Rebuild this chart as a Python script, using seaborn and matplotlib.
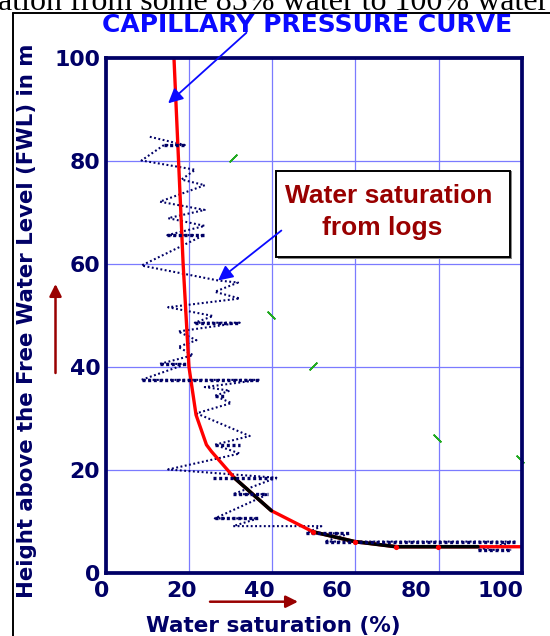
import matplotlib
matplotlib.use("Agg")
import matplotlib.pyplot as plt
import seaborn as sns
from matplotlib.lines import Line2D
from matplotlib.patches import Rectangle
from matplotlib.transforms import ScaledTranslation

# ---- capillary pressure curve (Sw %, height above FWL m)
cap_sw = [16.4, 18.6, 20.0, 21.7, 24.2, 25.4, 31.0, 39.8, 49.8, 59.8, 69.8, 79.8, 89.4, 100.0]
cap_h = [100.0, 60.0, 40.0, 30.7, 24.9, 23.6, 18.4, 12.1, 8.0, 6.1, 5.1, 5.1, 5.1, 5.1]

log_sw = [10.6, 19.0, 14.0, 8.6, 21.5, 18.2, 23.8, 13.0, 23.8, 15.0, 23.8, 14.8, 23.6,
          8.6, 27.0, 31.8, 26.2, 32.2, 15.0, 25.8, 21.4, 32.2, 17.4, 21.8, 17.4, 21.0,
          13.0, 19.4, 8.6, 37.0, 23.8, 29.8, 26.2, 30.2, 21.8, 34.6, 26.2, 32.2, 15.0,
          41.0, 30.6, 39.0, 26.2, 36.6, 30.6, 51.8, 48.2, 58.6, 52.6, 98.6, 89.4, 97.4]
log_h = [84.7, 83.1, 83.1, 80.1, 78.3, 76.4, 75.3, 72.1, 70.5, 68.9, 67.4, 65.6, 65.6,
         59.7, 56.8, 56.4, 54.6, 53.3, 51.6, 49.9, 48.6, 48.6, 46.9, 45.2, 43.9, 42.3,
         40.6, 40.6, 37.5, 37.5, 36.1, 35.4, 34.4, 33.0, 31.0, 26.6, 24.9, 23.2, 20.1,
         18.5, 15.3, 15.3, 10.6, 10.6, 9.1, 9.1, 7.7, 7.7, 6.1, 6.1, 4.5, 4.5]

# flat (constant) log sections
flat_h = [83.1, 65.6, 48.6, 40.6, 37.5, 34.4, 24.9, 18.5, 15.3, 10.6, 7.7, 6.1, 4.5]
flat_lo = [14.0, 14.8, 21.4, 13.0, 8.6, 26.2, 26.2, 25.8, 30.6, 26.2, 48.2, 52.6, 89.4]
flat_hi = [19.0, 23.6, 32.2, 19.4, 37.0, 28.6, 32.2, 41.0, 39.0, 36.6, 58.6, 98.6, 97.4]

# small core-point ticks
core_sw = [30.5, 39.8, 49.8, 79.6, 99.6]
core_h = [80.5, 50.1, 40.1, 26.2, 22.1]
core_slant = ["/", "\\", "/", "\\", "\\"]

x_ticks = [0, 20, 40, 60, 80, 100]
y_ticks = [0, 20, 40, 60, 80, 100]
# horizontal nudge (pixels) of the x tick labels as typeset on the original page
x_label_nudge = [-4, -7, -13, -19, -23, -22]

NAVY = "#000066"
GRID = "#7b7bff"
DARKRED = "#990000"
BLUE = "#0a0aff"

sns.set_style("white")
plt.rcParams["font.family"] = ["DejaVu Sans"]

W, H = 550, 636
fig = plt.figure(figsize=(W / 100, H / 100), dpi=100)
ax = fig.add_axes([105.7 / W, 1 - 573 / H, 416.3 / W, 515 / H])

ax.set_xlim(0, 100)
ax.set_ylim(0, 100)
ax.set_xticks(x_ticks)
ax.set_yticks(y_ticks)
ax.grid(True, color=GRID, lw=0.9)
ax.set_axisbelow(True)
for sp in ax.spines.values():
    sp.set_color(NAVY)
    sp.set_linewidth(2.7)
    sp.set_zorder(6)
ax.tick_params(length=0, labelsize=15.8, labelcolor=NAVY)
ax.tick_params(axis="x", pad=5.5)
ax.tick_params(axis="y", pad=4.0)
for lbl in ax.get_xticklabels() + ax.get_yticklabels():
    lbl.set_fontweight("bold")
for lbl, dx in zip(ax.get_xticklabels(), x_label_nudge):
    lbl.set_transform(lbl.get_transform() + ScaledTranslation(dx / 100, 0, fig.dpi_scale_trans))

# log trace
sns.lineplot(x=log_sw, y=log_h, sort=False, estimator=None, color=NAVY, lw=1.5,
             linestyle=(0, (0.9, 1.2)), ax=ax)
ax.hlines(flat_h, flat_lo, flat_hi, colors=NAVY, lw=2.4, linestyles=[(0, (0.9, 0.8))], zorder=3)

# capillary pressure curve
sns.lineplot(x=cap_sw, y=cap_h, sort=False, estimator=None, color="red", lw=2.4, ax=ax)
sns.lineplot(x=cap_sw[6:8], y=cap_h[6:8], sort=False, estimator=None, color="black", lw=2.6, ax=ax)
sns.lineplot(x=cap_sw[8:13], y=cap_h[8:13], sort=False, estimator=None, color="black", lw=2.6, ax=ax)
sns.scatterplot(x=cap_sw[8:12], y=cap_h[8:12], color="red", s=14, linewidth=0, zorder=5, ax=ax)

# core ticks
for slant, ang in (("/", -45), ("\\", 45)):
    xs = [x for x, s in zip(core_sw, core_slant) if s == slant]
    ys = [y for y, s in zip(core_h, core_slant) if s == slant]
    sns.scatterplot(x=xs, y=ys, marker=(2, 2, ang), s=45, color="#22aa22",
                    linewidth=1.2, ax=ax, clip_on=False, zorder=5)

# callout box
ax.add_patch(Rectangle((41.3, 61.0), 56.2, 17.1, facecolor="#888888", edgecolor="none",
                       clip_on=False, zorder=6))
ax.add_patch(Rectangle((41.0, 61.3), 56.2, 16.8, facecolor="white", edgecolor="black",
                       lw=1.4, clip_on=False, zorder=7))
ax.text(68.0, 71.8, "Water saturation", family="Liberation Sans", fontweight="bold",
        fontsize=19, color=DARKRED, ha="center", va="baseline", zorder=8)
ax.text(66.5, 65.6, "from logs", family="Liberation Sans", fontweight="bold",
        fontsize=19, color=DARKRED, ha="center", va="baseline", zorder=8)

# callout arrows
ax.annotate("", xy=(27.0, 56.8), xytext=(42.2, 66.5),
            arrowprops=dict(arrowstyle="-|>", color=BLUE, lw=1.3, mutation_scale=22,
                            shrinkA=0, shrinkB=0), annotation_clip=False, zorder=8)
ax.annotate("", xy=(15.0, 91.2), xytext=(33.8, 104.9),
            arrowprops=dict(arrowstyle="-|>", color=BLUE, lw=1.3, mutation_scale=22,
                            shrinkA=0, shrinkB=0), annotation_clip=False, zorder=8)
fig.text(306.7 / W, 1 - 31.7 / H, "CAPILLARY PRESSURE CURVE", color=BLUE,
         fontweight="bold", fontsize=18, ha="center", va="baseline")

# axis labels
ax.set_xlabel("Water saturation (%)", fontsize=15.5, fontweight="bold", color=NAVY)
ax.xaxis.label.set_verticalalignment("baseline")
ax.xaxis.set_label_coords((273 - 105.7) / 416.3, (573 - 631.7) / 515)
ax.set_ylabel("Height above the Free Water Level (FWL) in m", fontsize=15.3,
              fontweight="bold", color=NAVY)
ax.yaxis.label.set_verticalalignment("center")
ax.yaxis.set_label_coords((27 - 105.7) / 416.3, (573 - 321) / 515)

# direction arrows
ax.annotate("", xy=(298, 34.3), xytext=(210, 34.3), xycoords="figure pixels",
            textcoords="figure pixels",
            arrowprops=dict(arrowstyle="-|>", color=DARKRED, lw=1.8, mutation_scale=18,
                            shrinkA=0, shrinkB=0))
ax.annotate("", xy=(55.5, 636 - 284), xytext=(55.5, 636 - 373), xycoords="figure pixels",
            textcoords="figure pixels",
            arrowprops=dict(arrowstyle="-|>", color=DARKRED, lw=1.8, mutation_scale=18,
                            shrinkA=0, shrinkB=0))

# page frame and running text
fig.add_artist(Line2D([12.5 / W, 12.5 / W], [0, 1 - 12.5 / H], color="black", lw=1.4,
                      transform=fig.transFigure))
fig.add_artist(Line2D([12.5 / W, 1], [1 - 12.5 / H, 1 - 12.5 / H], color="black", lw=1.4,
                      transform=fig.transFigure))
fig.text(-2 / W, 1 - 10 / H, "ation from some 85% water to 100% water",
         family="Liberation Serif", fontsize=23, ha="left", va="baseline", color="black")

fig.savefig("out.png", dpi=100, facecolor="white")
